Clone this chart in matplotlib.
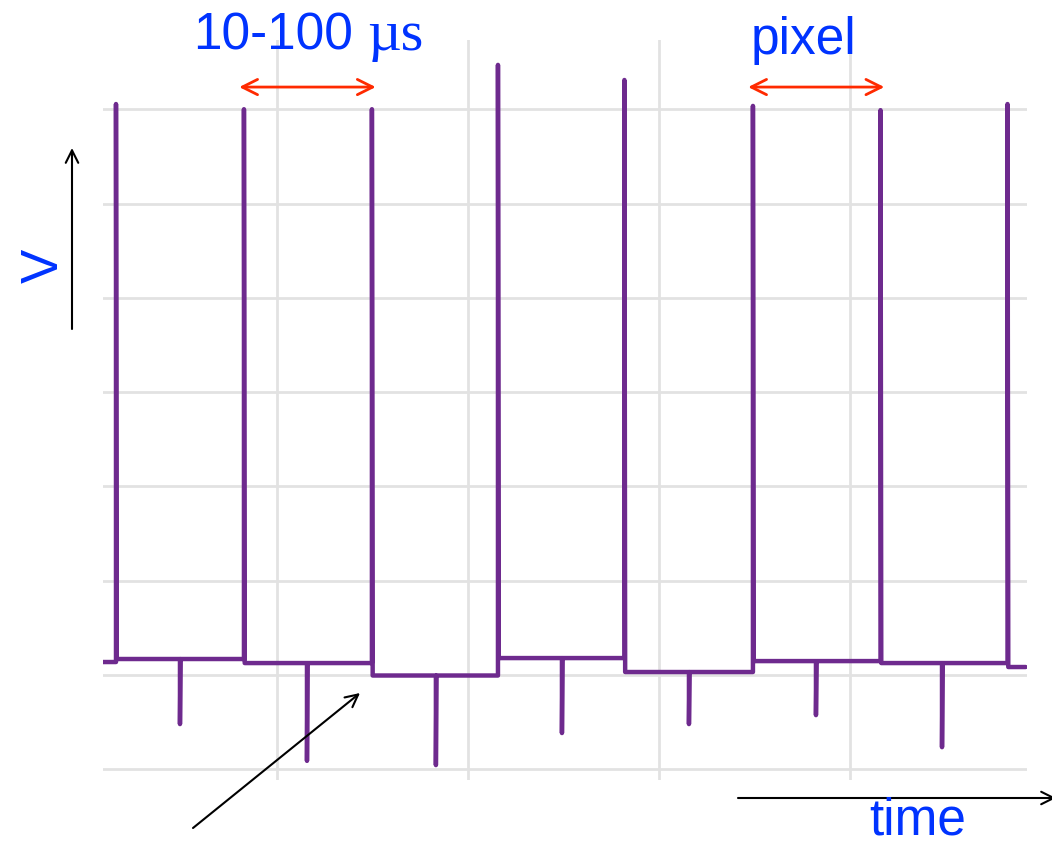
import matplotlib
matplotlib.use("Agg")
import matplotlib.pyplot as plt

# time in grid divisions, voltage in grid divisions
pulse_t = [0.157, 0.827, 1.497, 2.157, 2.819, 3.492, 4.160, 4.825]
pulse_peak = [6.055, 6.0, 6.0, 6.47, 6.31, 6.035, 5.99, 6.055]
dip_t = [0.492, 1.157, 1.832, 2.492, 3.157, 3.822, 4.482]
dip_min = [-0.52, -0.91, -0.955, -0.615, -0.52, -0.425, -0.765]
level_start = 0.138
levels = [0.17, 0.127, -0.005, 0.18, 0.032, 0.148, 0.127, 0.085]
t_start, t_end = 0.089, 4.92

grid_t = [1, 2, 3, 4]
grid_v = [-1, 0, 1, 2, 3, 4, 5, 6]

# build the trace from the read values
tx = [t_start]
vy = [level_start]
prev = level_start
for i in range(len(pulse_t)):
    tx += [pulse_t[i], pulse_t[i], pulse_t[i] + 0.004]
    vy += [prev, pulse_peak[i], levels[i]]
    if i < len(dip_t):
        tx += [dip_t[i], dip_t[i], dip_t[i] + 0.003]
        vy += [levels[i], dip_min[i], levels[i]]
    prev = levels[i]
tx.append(t_end)
vy.append(prev)

W, H = 1052, 846
fig = plt.figure(figsize=(W / 100, H / 100), dpi=100)
ax = fig.add_axes([103 / W, (H - 780) / H, (1027 - 103) / W, (780 - 40) / H])
ax.set_xlim(0.089, 4.927)
ax.set_ylim(-1.113, 6.734)
ax.set_xticks(grid_t)
ax.set_yticks(grid_v)
ax.grid(True, color="#e2e2e2", lw=2.0)
ax.tick_params(length=0, labelbottom=False, labelleft=False)
for s in ax.spines.values():
    s.set_visible(False)

ax.plot(tx, vy, color="#6e2a8e", lw=3.2, solid_joinstyle="round", solid_capstyle="round")

# red period arrows
red = "#ff2a00"
for a, b in [(1, 2), (5, 6)]:
    ax.annotate("", xy=(pulse_t[a] - 0.025, 6.235), xytext=(pulse_t[b] + 0.02, 6.235),
                arrowprops=dict(arrowstyle="<->,head_length=1.1,head_width=0.55",
                                color=red, lw=2.0, shrinkA=0, shrinkB=0),
                annotation_clip=False)

blue = "#0033ff"
sans = ["Liberation Sans", "DejaVu Sans"]
fig.text(273 / W, (H - 50) / H, "10-100", color=blue, fontsize=37, family=sans,
         ha="center", va="baseline")
fig.text(395 / W, (H - 50) / H, "\u00b5s", color=blue, fontsize=42,
         family=["Liberation Serif", "DejaVu Serif"], ha="center", va="baseline")
fig.text(804 / W, (H - 54) / H, "pixel", color=blue, fontsize=37, family=sans,
         ha="center", va="baseline")
fig.text(918 / W, (H - 834) / H, "time", color=blue, fontsize=37, family=sans,
         ha="center", va="baseline")
fig.text(44 / W, (H - 266) / H, "V", color=blue, fontsize=37, family=sans,
         ha="center", va="center", rotation=90)

# black arrows
black_arrows = [((72, 329), (72, 148)), ((193, 828), (360, 693)), ((738, 798), (1056, 798))]
for (x0, y0), (x1, y1) in black_arrows:
    ax.annotate("", xy=(x1, H - y1), xycoords="figure pixels",
                xytext=(x0, H - y0), textcoords="figure pixels",
                arrowprops=dict(arrowstyle="->,head_length=0.9,head_width=0.45",
                                color="black", lw=1.5, shrinkA=0, shrinkB=0),
                annotation_clip=False)

fig.savefig("out.png", dpi=100)
